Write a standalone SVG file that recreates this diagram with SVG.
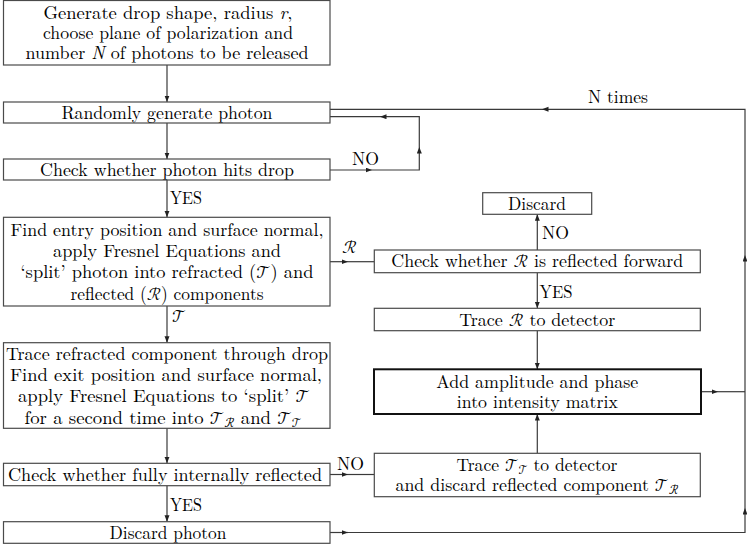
<svg xmlns="http://www.w3.org/2000/svg" width="747" height="548" viewBox="0 0 747 548">
<style>
.box{fill:#fff;stroke:#4a4a4a;stroke-width:1.2}
.bold{fill:#fff;stroke:#111;stroke-width:2}
.t{text-anchor:middle}
.l{text-anchor:start}
.i{font-style:italic}
.c{fill:none;stroke:#3a3a3a;stroke-width:1.2}
</style>
<defs>
<marker id="ah" markerWidth="8" markerHeight="6" refX="6.5" refY="2.5" orient="auto" markerUnits="userSpaceOnUse">
<path d="M0,0 L6.5,2.5 L0,5 z" fill="#222"/>
</marker>
</defs>
<rect width="747" height="548" fill="#fff"/>
<g font-family="Latin Modern Roman, CMU Serif, Liberation Serif, serif" font-size="18" fill="#000">

<g id="connectors">
<path class="c" d="M167,65 V102" marker-end="url(#ah)"/>
<path class="c" d="M167,123 V159" marker-end="url(#ah)"/>
<path class="c" d="M167,180 V217.3" marker-end="url(#ah)"/>
<path class="c" d="M167,306 V342.7" marker-end="url(#ah)"/>
<path class="c" d="M167,428.3 V463.3" marker-end="url(#ah)"/>
<path class="c" d="M167,485.7 V521.7" marker-end="url(#ah)"/>
<path class="c" d="M330,170 H372" marker-end="url(#ah)"/>
<path class="c" d="M372,170 H419.3 V147" marker-end="url(#ah)"/>
<path class="c" d="M419.3,147 V116.7 H380" marker-end="url(#ah)"/>
<path class="c" d="M380,116.7 H330"/>
<path class="c" d="M330,261.7 H348" marker-end="url(#ah)"/>
<path class="c" d="M348,261.7 H374.3"/>
<path class="c" d="M330,474.5 H348" marker-end="url(#ah)"/>
<path class="c" d="M348,474.5 H374.3"/>
<path class="c" d="M330,532.5 H348" marker-end="url(#ah)"/>
<path class="c" d="M348,532.5 H745 V508" marker-end="url(#ah)"/>
<path class="c" d="M745,508 V255" marker-end="url(#ah)"/>
<path class="c" d="M745,255 V109.3 H542" marker-end="url(#ah)"/>
<path class="c" d="M542,109.3 H330"/>
<path class="c" d="M701,391.7 H718" marker-end="url(#ah)"/>
<path class="c" d="M718,391.7 H745"/>
<path class="c" d="M537.3,250 V214.3" marker-end="url(#ah)"/>
<path class="c" d="M537.3,272.7 V308.3" marker-end="url(#ah)"/>
<path class="c" d="M537.3,330.7 V369.3" marker-end="url(#ah)"/>
<path class="c" d="M537.3,453.3 V414" marker-end="url(#ah)"/>
<text class="l" x="170" y="204" textLength="32" lengthAdjust="spacingAndGlyphs">YES</text>
<text class="l" x="172" y="322" font-family="Latin Modern Math, DejaVu Serif, serif">𝒯</text>
<text class="l" x="170" y="511" textLength="32" lengthAdjust="spacingAndGlyphs">YES</text>
<text class="l" x="342" y="253" font-family="Latin Modern Math, DejaVu Serif, serif">ℛ</text>
<text class="l" x="352" y="165" textLength="27" lengthAdjust="spacingAndGlyphs">NO</text>
<text class="l" x="337" y="470" textLength="27" lengthAdjust="spacingAndGlyphs">NO</text>
<text class="l" x="542" y="239" textLength="27" lengthAdjust="spacingAndGlyphs">NO</text>
<text class="l" x="539.5" y="298" textLength="33" lengthAdjust="spacingAndGlyphs">YES</text>
<text class="l" x="588" y="103" textLength="60" lengthAdjust="spacingAndGlyphs">N times</text>
</g>

<g id="n1">
<rect class="box" x="3.5" y="0.5" width="326.5" height="64.5"/>
<text class="t" x="168" y="18.7" textLength="249" lengthAdjust="spacingAndGlyphs">Generate drop shape, radius <tspan class="i">r</tspan>,</text>
<text class="t" x="168" y="38.7" textLength="250" lengthAdjust="spacingAndGlyphs">choose plane of polarization and</text>
<text class="t" x="167" y="58.7" textLength="283" lengthAdjust="spacingAndGlyphs">number <tspan class="i">N</tspan> of photons to be released</text>
</g>
<g id="n2">
<rect class="box" x="3.5" y="102" width="326.5" height="21"/>
<text class="t" x="167" y="118.5" textLength="211" lengthAdjust="spacingAndGlyphs">Randomly generate photon</text>
</g>
<g id="n3">
<rect class="box" x="3.5" y="159" width="326.5" height="21"/>
<text class="t" x="167" y="175.5" textLength="254" lengthAdjust="spacingAndGlyphs">Check whether photon hits drop</text>
</g>
<g id="n4">
<rect class="box" x="3.5" y="217.3" width="326.5" height="88.7"/>
<text class="t" x="167" y="235.7" textLength="313" lengthAdjust="spacingAndGlyphs">Find entry position and surface normal,</text>
<text class="t" x="167" y="257" textLength="228" lengthAdjust="spacingAndGlyphs">apply Fresnel Equations and</text>
<text class="t" x="167" y="278.3" textLength="293" lengthAdjust="spacingAndGlyphs">‘split’ photon into refracted (<tspan font-family="Latin Modern Math, DejaVu Serif, serif">𝒯</tspan>) and</text>
<text class="t" x="167" y="299.6" textLength="193" lengthAdjust="spacingAndGlyphs">reflected (<tspan font-family="Latin Modern Math, DejaVu Serif, serif">ℛ</tspan>) components</text>
</g>
<g id="n5">
<rect class="box" x="3.5" y="342.7" width="326.5" height="85.6"/>
<text class="t" x="167" y="359.5" textLength="322" lengthAdjust="spacingAndGlyphs">Trace refracted component through drop</text>
<text class="t" x="166" y="380.9" textLength="312" lengthAdjust="spacingAndGlyphs">Find exit position and surface normal,</text>
<text class="t" x="164" y="402.2" textLength="292" lengthAdjust="spacingAndGlyphs">apply Fresnel Equations to ‘split’ <tspan font-family="Latin Modern Math, DejaVu Serif, serif">𝒯</tspan></text>
<text class="t" x="163" y="423.5" textLength="277" lengthAdjust="spacingAndGlyphs">for a second time into <tspan font-family="Latin Modern Math, DejaVu Serif, serif">𝒯<tspan font-size="12" dy="3">ℛ</tspan></tspan><tspan dy="-3"> and </tspan><tspan font-family="Latin Modern Math, DejaVu Serif, serif">𝒯<tspan font-size="12" dy="3">𝒯</tspan></tspan></text>
</g>
<g id="n6">
<rect class="box" x="3.5" y="463.3" width="326.5" height="22.4"/>
<text class="t" x="165" y="480.5" textLength="314" lengthAdjust="spacingAndGlyphs">Check whether fully internally reflected</text>
</g>
<g id="n7">
<rect class="box" x="3.5" y="521.7" width="326.5" height="21.6"/>
<text class="t" x="168" y="538.5" textLength="117" lengthAdjust="spacingAndGlyphs">Discard photon</text>
</g>
<g id="n8">
<rect class="box" x="482.7" y="192.7" width="109" height="21.6"/>
<text class="t" x="537" y="209.5" textLength="58" lengthAdjust="spacingAndGlyphs">Discard</text>
</g>
<g id="n9">
<rect class="box" x="374.3" y="250" width="326" height="22.7"/>
<text class="t" x="537.3" y="267.3" textLength="292" lengthAdjust="spacingAndGlyphs">Check whether <tspan font-family="Latin Modern Math, DejaVu Serif, serif">ℛ</tspan> is reflected forward</text>
</g>
<g id="n10">
<rect class="box" x="374.3" y="308.3" width="326" height="22.4"/>
<text class="t" x="537.3" y="325.5" textLength="156" lengthAdjust="spacingAndGlyphs">Trace <tspan font-family="Latin Modern Math, DejaVu Serif, serif">ℛ</tspan> to detector</text>
</g>
<g id="n11">
<rect class="bold" x="374" y="369.3" width="327" height="44.7"/>
<text class="t" x="537.3" y="387.7" textLength="202" lengthAdjust="spacingAndGlyphs">Add amplitude and phase</text>
<text class="t" x="537.3" y="407.7" textLength="161" lengthAdjust="spacingAndGlyphs">into intensity matrix</text>
</g>
<g id="n12">
<rect class="box" x="374.3" y="453.3" width="326" height="43.4"/>
<text class="t" x="537" y="471" textLength="161" lengthAdjust="spacingAndGlyphs">Trace <tspan font-family="Latin Modern Math, DejaVu Serif, serif">𝒯<tspan font-size="12" dy="3">𝒯</tspan></tspan><tspan dy="-3"> to detector</tspan></text>
<text class="t" x="537" y="491" textLength="283" lengthAdjust="spacingAndGlyphs">and discard reflected component <tspan font-family="Latin Modern Math, DejaVu Serif, serif">𝒯<tspan font-size="12" dy="3">ℛ</tspan></tspan></text>
</g>
</g>
</svg>
